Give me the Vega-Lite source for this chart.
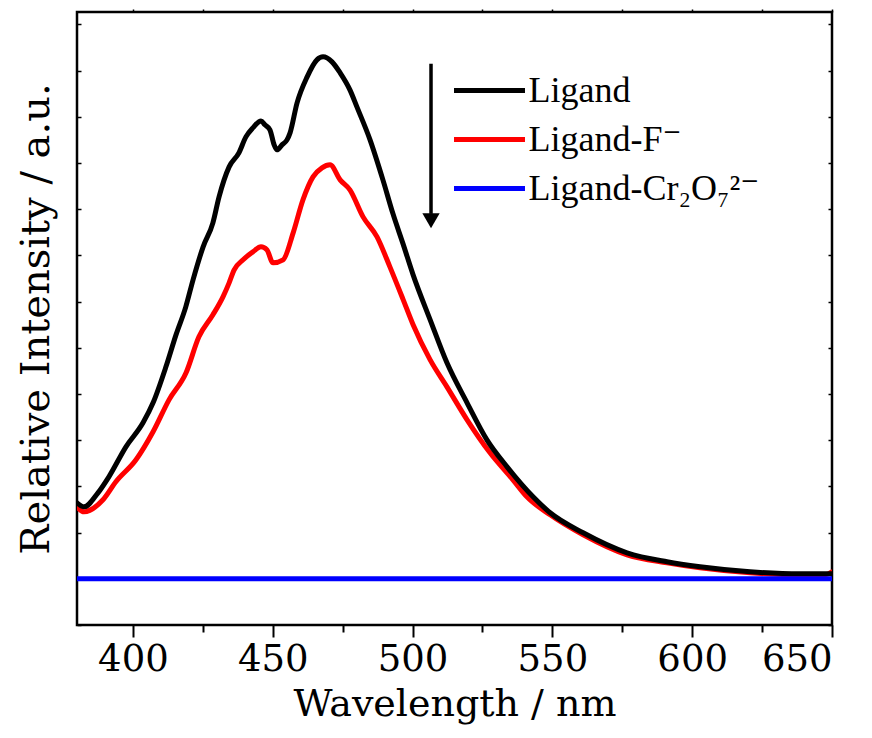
{
  "$schema": "https://vega.github.io/schema/vega-lite/v6.json",
  "width": 755,
  "height": 613,
  "autosize": {"type": "none"},
  "padding": {"left": 77, "top": 12, "right": 40, "bottom": 113},
  "background": "white",
  "config": {
    "font": "DejaVu Serif",
    "view": {"stroke": "black", "strokeWidth": 2.5},
    "axis": {"grid": false, "domain": false, "tickColor": "black", "labelColor": "black", "titleColor": "black", "titleFontWeight": "normal", "labelFont": "DejaVu Serif", "titleFont": "DejaVu Serif"},
    "legend": {"orient": "none", "legendX": 392, "legendY": 58, "padding": 0, "labelFont": "Liberation Serif, Times New Roman, DejaVu Serif, serif", "labelFontSize": 36, "labelColor": "black", "labelLimit": 500, "symbolType": "M-2,0L2,0", "symbolSize": 1260, "symbolStrokeWidth": 5, "labelOffset": 18.5, "rowPadding": 10, "titlePadding": 0}
  },
  "datasets": {
    "spectra": [
      {"s": "Ligand-F⁻", "x": 380.0, "y": 1.558},
      {"s": "Ligand-F⁻", "x": 382.5, "y": 1.450},
      {"s": "Ligand-F⁻", "x": 389.3, "y": 1.710},
      {"s": "Ligand-F⁻", "x": 393.9, "y": 2.100},
      {"s": "Ligand-F⁻", "x": 401.1, "y": 2.576},
      {"s": "Ligand-F⁻", "x": 407.2, "y": 3.182},
      {"s": "Ligand-F⁻", "x": 412.9, "y": 3.874},
      {"s": "Ligand-F⁻", "x": 419.0, "y": 4.459},
      {"s": "Ligand-F⁻", "x": 423.6, "y": 5.238},
      {"s": "Ligand-F⁻", "x": 428.6, "y": 5.714},
      {"s": "Ligand-F⁻", "x": 432.2, "y": 6.104},
      {"s": "Ligand-F⁻", "x": 434.4, "y": 6.407},
      {"s": "Ligand-F⁻", "x": 436.2, "y": 6.688},
      {"s": "Ligand-F⁻", "x": 439.4, "y": 6.905},
      {"s": "Ligand-F⁻", "x": 442.9, "y": 7.078},
      {"s": "Ligand-F⁻", "x": 445.8, "y": 7.186},
      {"s": "Ligand-F⁻", "x": 447.9, "y": 7.121},
      {"s": "Ligand-F⁻", "x": 450.1, "y": 6.840},
      {"s": "Ligand-F⁻", "x": 453.7, "y": 6.905},
      {"s": "Ligand-F⁻", "x": 457.3, "y": 7.489},
      {"s": "Ligand-F⁻", "x": 460.8, "y": 8.203},
      {"s": "Ligand-F⁻", "x": 464.4, "y": 8.701},
      {"s": "Ligand-F⁻", "x": 467.6, "y": 8.896},
      {"s": "Ligand-F⁻", "x": 470.5, "y": 8.961},
      {"s": "Ligand-F⁻", "x": 474.1, "y": 8.636},
      {"s": "Ligand-F⁻", "x": 477.6, "y": 8.420},
      {"s": "Ligand-F⁻", "x": 482.3, "y": 7.835},
      {"s": "Ligand-F⁻", "x": 487.3, "y": 7.403},
      {"s": "Ligand-F⁻", "x": 491.9, "y": 6.753},
      {"s": "Ligand-F⁻", "x": 496.6, "y": 6.050},
      {"s": "Ligand-F⁻", "x": 500.2, "y": 5.500},
      {"s": "Ligand-F⁻", "x": 506.3, "y": 4.740},
      {"s": "Ligand-F⁻", "x": 512.3, "y": 4.156},
      {"s": "Ligand-F⁻", "x": 519.5, "y": 3.442},
      {"s": "Ligand-F⁻", "x": 527.7, "y": 2.727},
      {"s": "Ligand-F⁻", "x": 535.9, "y": 2.143},
      {"s": "Ligand-F⁻", "x": 540.9, "y": 1.775},
      {"s": "Ligand-F⁻", "x": 549.2, "y": 1.385},
      {"s": "Ligand-F⁻", "x": 561.0, "y": 0.952},
      {"s": "Ligand-F⁻", "x": 576.7, "y": 0.519},
      {"s": "Ligand-F⁻", "x": 591.0, "y": 0.346},
      {"s": "Ligand-F⁻", "x": 602.8, "y": 0.238},
      {"s": "Ligand-F⁻", "x": 620.7, "y": 0.130},
      {"s": "Ligand-F⁻", "x": 638.6, "y": 0.087},
      {"s": "Ligand-F⁻", "x": 647.5, "y": 0.087},
      {"s": "Ligand-F⁻", "x": 650.0, "y": 0.150},
      {"s": "Ligand", "x": 380.0, "y": 1.645},
      {"s": "Ligand", "x": 382.5, "y": 1.558},
      {"s": "Ligand", "x": 387.5, "y": 1.861},
      {"s": "Ligand", "x": 391.4, "y": 2.208},
      {"s": "Ligand", "x": 397.5, "y": 2.857},
      {"s": "Ligand", "x": 403.6, "y": 3.377},
      {"s": "Ligand", "x": 407.2, "y": 3.810},
      {"s": "Ligand", "x": 411.8, "y": 4.589},
      {"s": "Ligand", "x": 415.4, "y": 5.280},
      {"s": "Ligand", "x": 418.9, "y": 5.887},
      {"s": "Ligand", "x": 421.5, "y": 6.472},
      {"s": "Ligand", "x": 425.1, "y": 7.186},
      {"s": "Ligand", "x": 428.6, "y": 7.706},
      {"s": "Ligand", "x": 430.8, "y": 8.268},
      {"s": "Ligand", "x": 434.4, "y": 8.918},
      {"s": "Ligand", "x": 437.9, "y": 9.221},
      {"s": "Ligand", "x": 440.4, "y": 9.567},
      {"s": "Ligand", "x": 442.9, "y": 9.762},
      {"s": "Ligand", "x": 445.8, "y": 9.913},
      {"s": "Ligand", "x": 447.2, "y": 9.827},
      {"s": "Ligand", "x": 449.0, "y": 9.719},
      {"s": "Ligand", "x": 450.5, "y": 9.394},
      {"s": "Ligand", "x": 451.5, "y": 9.286},
      {"s": "Ligand", "x": 453.3, "y": 9.394},
      {"s": "Ligand", "x": 455.1, "y": 9.502},
      {"s": "Ligand", "x": 456.2, "y": 9.654},
      {"s": "Ligand", "x": 458.7, "y": 10.303},
      {"s": "Ligand", "x": 462.3, "y": 10.866},
      {"s": "Ligand", "x": 465.8, "y": 11.234},
      {"s": "Ligand", "x": 468.0, "y": 11.299},
      {"s": "Ligand", "x": 471.2, "y": 11.190},
      {"s": "Ligand", "x": 474.1, "y": 10.952},
      {"s": "Ligand", "x": 477.6, "y": 10.584},
      {"s": "Ligand", "x": 480.1, "y": 10.216},
      {"s": "Ligand", "x": 484.8, "y": 9.502},
      {"s": "Ligand", "x": 489.4, "y": 8.636},
      {"s": "Ligand", "x": 493.0, "y": 7.900},
      {"s": "Ligand", "x": 496.6, "y": 7.250},
      {"s": "Ligand", "x": 500.2, "y": 6.580},
      {"s": "Ligand", "x": 506.3, "y": 5.606},
      {"s": "Ligand", "x": 512.3, "y": 4.675},
      {"s": "Ligand", "x": 519.5, "y": 3.810},
      {"s": "Ligand", "x": 526.6, "y": 3.009},
      {"s": "Ligand", "x": 533.8, "y": 2.424},
      {"s": "Ligand", "x": 543.1, "y": 1.775},
      {"s": "Ligand", "x": 549.2, "y": 1.429},
      {"s": "Ligand", "x": 561.0, "y": 0.996},
      {"s": "Ligand", "x": 576.7, "y": 0.563},
      {"s": "Ligand", "x": 591.0, "y": 0.368},
      {"s": "Ligand", "x": 602.8, "y": 0.260},
      {"s": "Ligand", "x": 620.7, "y": 0.152},
      {"s": "Ligand", "x": 638.6, "y": 0.108},
      {"s": "Ligand", "x": 650.0, "y": 0.108},
      {"s": "Ligand-Cr₂O₇²⁻", "x": 380.0, "y": 0.0},
      {"s": "Ligand-Cr₂O₇²⁻", "x": 650.0, "y": 0.0}
    ],
    "arrow": [
      {"x": 506.6, "y1": 11.15, "y2": 7.9, "yh": 7.75}
    ]
  },
  "resolve": {"axis": {"x": "independent", "y": "independent"}},
  "layer": [
    {
      "data": {"name": "spectra"},
      "mark": {"type": "line", "strokeWidth": 5, "strokeJoin": "round", "strokeCap": "round", "interpolate": "monotone", "clip": true},
      "encoding": {
        "x": {"field": "x", "type": "quantitative", "scale": {"domain": [380, 650], "nice": false, "zero": false},
          "axis": {"orient": "bottom", "values": [400, 450, 500, 550, 600, 650], "tickSize": 12, "tickWidth": 2, "labelFont": "DejaVu Serif", "labelFontSize": 37, "labelPadding": 4, "labelOverlap": false, "title": "Wavelength / nm", "titleFont": "DejaVu Serif", "titleFontSize": 38, "titleFontWeight": "normal", "titlePadding": 8}},
        "y": {"field": "y", "type": "quantitative", "scale": {"domain": [-1.0, 12.27], "nice": false, "zero": false},
          "axis": {"orient": "left", "values": [-1,0,1,2,3,4,5,6,7,8,9,10,11,12], "tickSize": -4, "tickWidth": 1.5, "labels": false, "title": "Relative Intensity / a.u.", "titleFont": "DejaVu Serif", "titleFontSize": 40, "titleFontWeight": "normal", "titlePadding": 20}},
        "color": {"field": "s", "type": "nominal", "title": null,
          "scale": {"domain": ["Ligand", "Ligand-F⁻", "Ligand-Cr₂O₇²⁻"], "range": ["#000000", "#ff0000", "#0000ff"]}},
        "detail": {"field": "s"}
      }
    },
    {
      "data": {"name": "arrow"},
      "mark": {"type": "rule", "strokeWidth": 3.5, "color": "black"},
      "encoding": {
        "x": {"field": "x", "type": "quantitative", "axis": {"orient": "top", "values": [400,425,450,475,500,525,550,575,600,625,650], "tickSize": 3, "tickWidth": 1.5, "labels": false, "title": null}},
        "y": {"field": "y1", "type": "quantitative", "axis": {"orient": "right", "values": [-1,0,1,2,3,4,5,6,7,8,9,10,11,12], "tickSize": -4, "tickWidth": 1.5, "labels": false, "title": null}},
        "y2": {"field": "y2"}
      }
    },
    {
      "data": {"name": "arrow"},
      "mark": {"type": "point", "shape": "triangle-down", "filled": true, "size": 300, "color": "black", "opacity": 1},
      "encoding": {
        "x": {"field": "x", "type": "quantitative", "axis": {"orient": "bottom", "values": [425,475,525,575,625], "tickSize": 7, "tickWidth": 2, "labels": false, "title": null}},
        "y": {"field": "yh", "type": "quantitative", "axis": null}
      }
    }
  ]
}
